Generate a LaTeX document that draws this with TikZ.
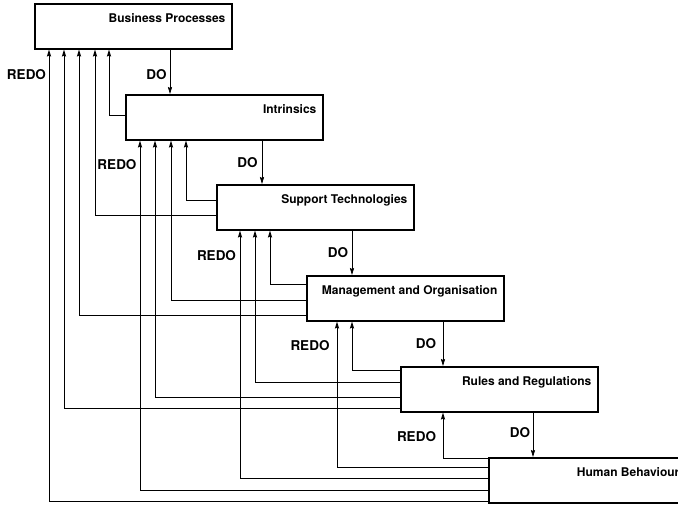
\documentclass[tikz,border=0pt]{standalone}
\usepackage{fontspec}
\setmainfont{TeX Gyre Heros}
\usetikzlibrary{arrows.meta}
\tikzset{
  box/.style={draw, line width=1.6pt, rectangle, minimum width=197pt, minimum height=45pt, inner sep=0pt, anchor=north west},
  title/.style={anchor=base east, inner sep=0pt, font=\fontsize{12}{14}\selectfont\bfseries},
  lab/.style={anchor=base, inner sep=0pt, font=\fontsize{13.5}{15}\selectfont\bfseries},
  fb/.style={line width=0.8pt, -{Stealth[length=7pt,width=4.2pt,inset=1pt]}},
  doarr/.style={line width=0.8pt, -{Stealth[length=7pt,width=4.2pt,inset=1pt]}}
}
\begin{document}
\begin{tikzpicture}[x=1pt,y=-1pt]
\useasboundingbox (0,0) rectangle (678,504);
\clip (0,0) rectangle (678,504);
% boxes
\node[box] (bp) at (34,3) {};
\node[box] (in) at (125,94) {};
\node[box] (st) at (216,184) {};
\node[box] (mo) at (306,275) {};
\node[box] (rr) at (400,366) {};
\node[box] (hb) at (488,457) {};
% titles
\node[title] (tbp) at ([shift={(-7pt,-19.5pt)}]bp.north east) {Business Processes};
\node[title] (tin) at ([shift={(-7pt,-19.5pt)}]in.north east) {Intrinsics};
\node[title] (tst) at ([shift={(-7pt,-19.5pt)}]st.north east) {Support Technologies};
\node[title] (tmo) at ([shift={(-7pt,-19.5pt)}]mo.north east) {Management and Organisation};
\node[title] (trr) at ([shift={(-7pt,-19.5pt)}]rr.north east) {Rules and Regulations};
\node[title] (thb) at ([shift={(-7pt,-19.5pt)}]hb.north east) {Human Behaviour};
% DO arrows
\draw[doarr] ([xshift=136pt]bp.south west) -- ([xshift=136pt]bp.south west |- in.north);
\draw[doarr] ([xshift=137pt]in.south west) -- ([xshift=137pt]in.south west |- st.north);
\draw[doarr] ([xshift=136pt]st.south west) -- ([xshift=136pt]st.south west |- mo.north);
\draw[doarr] ([xshift=137pt]mo.south west) -- ([xshift=137pt]mo.south west |- rr.north);
\draw[doarr] ([xshift=133pt]rr.south west) -- ([xshift=133pt]rr.south west |- hb.north);
% feedback (REDO) connectors
\draw[fb] ([yshift=-21pt]in.north west) -| ([xshift=75pt]bp.south west);
\draw[fb] ([yshift=-16pt]st.north west) -| ([xshift=61pt]in.south west);
\draw[fb] ([yshift=-31pt]st.north west) -| ([xshift=61pt]bp.south west);
\draw[fb] ([yshift=-9pt]mo.north west) -| ([xshift=54pt]st.south west);
\draw[fb] ([yshift=-25pt]mo.north west) -| ([xshift=46pt]in.south west);
\draw[fb] ([yshift=-40pt]mo.north west) -| ([xshift=45pt]bp.south west);
\draw[fb] ([yshift=-4pt]rr.north west) -| ([xshift=46pt]mo.south west);
\draw[fb] ([yshift=-16pt]rr.north west) -| ([xshift=39pt]st.south west);
\draw[fb] ([yshift=-31pt]rr.north west) -| ([xshift=30pt]in.south west);
\draw[fb] ([yshift=-42pt]rr.north west) -| ([xshift=30pt]bp.south west);
\draw[fb] ([yshift=-1pt]hb.north west) -| ([xshift=43pt]rr.south west);
\draw[fb] ([yshift=-10pt]hb.north west) -| ([xshift=31pt]mo.south west);
\draw[fb] ([yshift=-21pt]hb.north west) -| ([xshift=24pt]st.south west);
\draw[fb] ([yshift=-33pt]hb.north west) -| ([xshift=15pt]in.south west);
\draw[fb] ([yshift=-44.5pt]hb.north west) -| ([xshift=15pt]bp.south west);
% labels
\node[lab] (r1) at (26.5,79.8) {REDO};
\node[lab] (d1) at (156.5,79.8) {DO};
\node[lab] (r2) at (117,169.8) {REDO};
\node[lab] (d2) at (247.5,167.3) {DO};
\node[lab] (r3) at (216.5,260.8) {REDO};
\node[lab] (d3) at (338,257.8) {DO};
\node[lab] (r4) at (310,350.8) {REDO};
\node[lab] (d4) at (426,348.8) {DO};
\node[lab] (r5) at (416.5,441.8) {REDO};
\node[lab] (d5) at (520,437.8) {DO};
\end{tikzpicture}
\end{document}
